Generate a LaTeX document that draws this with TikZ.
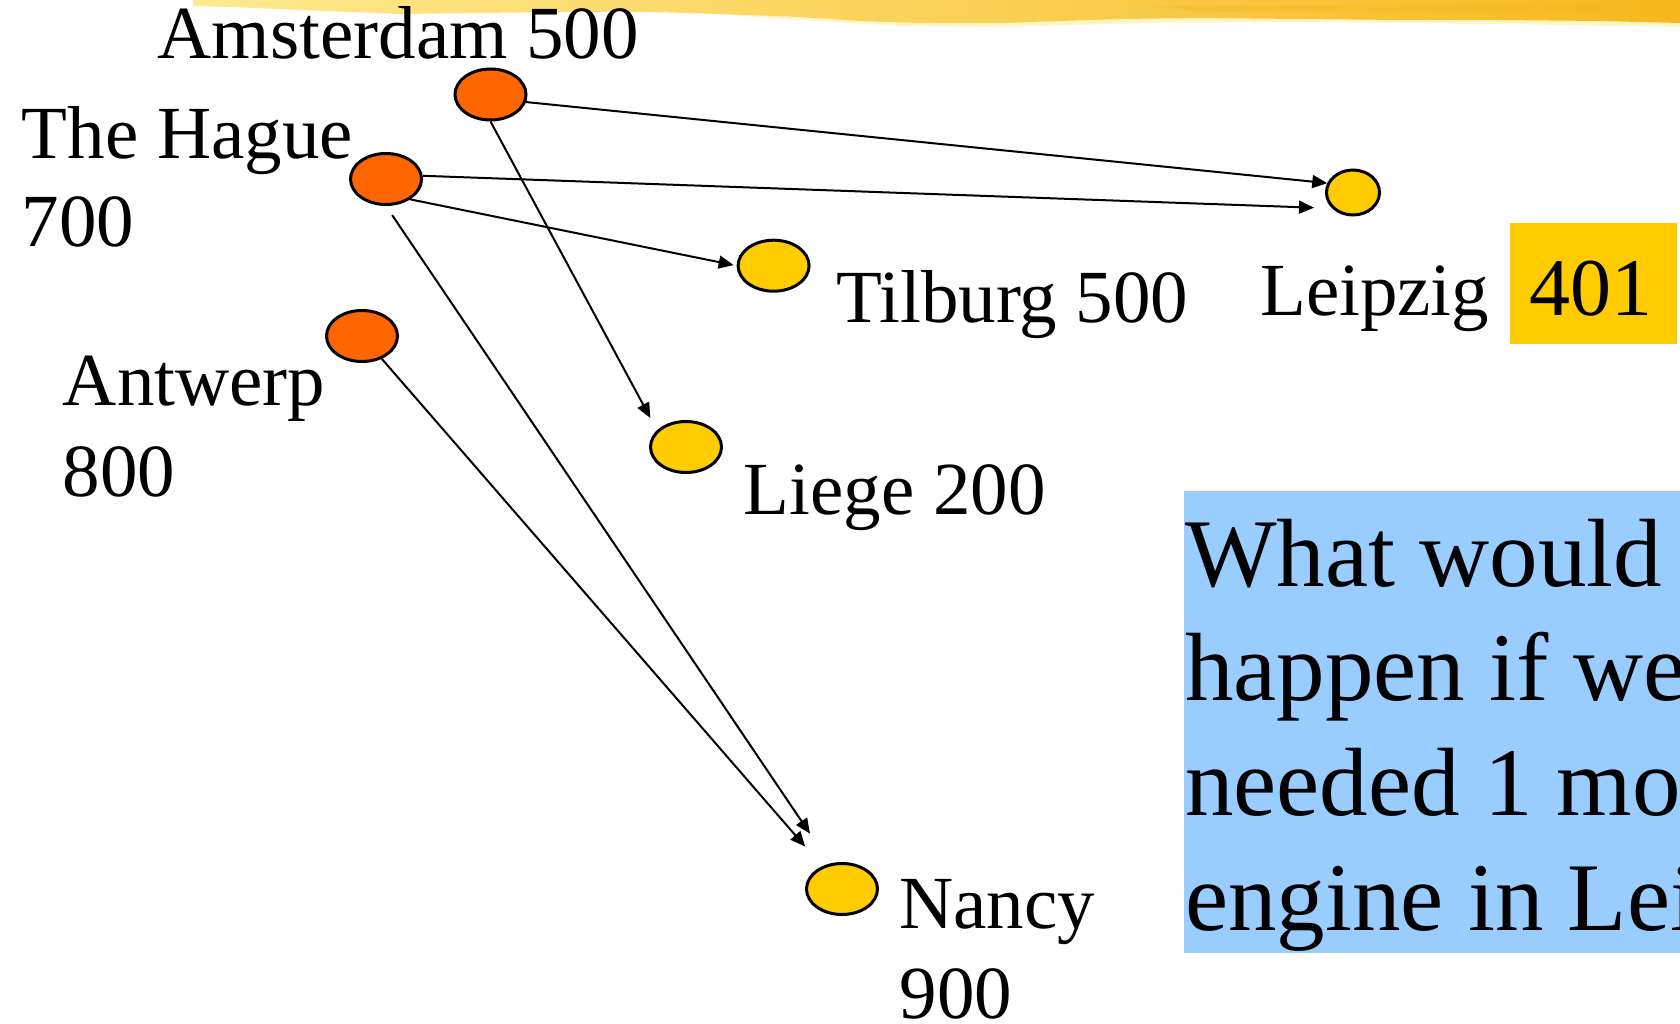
\documentclass[tikz,border=0pt]{standalone}
\usepackage{fontspec}
\setmainfont{Liberation Serif}
\usetikzlibrary{arrows.meta,shapes.geometric}
\definecolor{cityorange}{HTML}{FF6600}
\definecolor{cityyellow}{HTML}{FFCC00}
\definecolor{questionblue}{HTML}{99CCFF}
\definecolor{brushpale}{HTML}{FFEA90}
\definecolor{brushmid}{HTML}{FFD540}
\definecolor{brushdeep}{HTML}{F6B81E}
\definecolor{brushfringe}{HTML}{FFF3B8}

\begin{document}
\begin{tikzpicture}[x=1pt,y=-1pt,
  city/.style={ellipse,draw=black,line width=3pt,inner sep=0pt,
               minimum width=71pt,minimum height=51pt},
  source/.style={city,fill=cityorange},
  sink/.style={city,fill=cityyellow},
  lbl/.style={anchor=base west,inner sep=0pt,font=\fontsize{75}{88}\selectfont},
  qline/.style={anchor=base west,inner sep=0pt,font=\fontsize{97}{115}\selectfont},
  flow/.style={line width=2pt,-{Triangle[length=15pt,width=13pt]}}]
\path[use as bounding box] (0,0) rectangle (1680,1024);
\clip (0,0) rectangle (1680,1024);

% brush stroke along the top edge
\fill[brushfringe,opacity=0.8] (600,8) -- (700,13) -- (800,20) -- (900,26)
  -- (1000,27) -- (1150,23) -- (1300,22) -- (1500,24) -- (1680,27)
  -- (1680,15) -- cycle;
\shade[left color=brushpale,middle color=brushmid,right color=brushdeep]
  (193,-2) -- (193,6) -- (230,7) -- (300,10) -- (400,14) -- (480,13)
  -- (560,12) -- (650,12) -- (720,14) -- (800,17) -- (860,21) -- (920,23)
  -- (1000,23) -- (1060,21) -- (1120,19) -- (1200,18) -- (1300,19)
  -- (1400,20) -- (1500,20) -- (1600,21) -- (1680,23) -- (1680,-2) -- cycle;
\fill[brushdeep,opacity=0.35] (1150,6) -- (1680,4) -- (1680,14) -- (1200,12) -- cycle;

% cities
\node[source] (ams) at (490.5,94.5) {};
\node[source] (hag) at (386,179) {};
\node[source] (ant) at (362,336) {};
\node[sink] (til) at (773.6,265.7) {};
\node[sink] (lie) at (686,447) {};
\node[sink] (nan) at (842,889) {};
\node[sink,minimum width=53pt,minimum height=45pt] (lei) at (1353,192.5) {};

% city labels
\node[lbl] (amsL) at (157.5,59) {Amsterdam 500};
\node[lbl] (hagL) at (21.7,158.3) {The Hague};
\node[lbl] (hagN) at (21.7,246.7) {700};
\node[lbl] (antL) at (62.7,405) {Antwerp};
\node[lbl] (antN) at (62.7,496.7) {800};
\node[lbl] (tilL) at (836,322) {Tilburg 500};
\node[lbl] (leiL) at (1260,315.7) {Leipzig};
\node[fill=cityyellow,inner sep=0pt,minimum width=167pt,minimum height=121.3pt,
      anchor=north west] (leiBox) at (1510,222.7) {};
\node[lbl,font=\fontsize{82}{96}\selectfont] (leiN) at (1529,315.7) {401};
\node[lbl] (lieL) at (743.6,514) {Liege 200};
\node[lbl] (nanL) at (899.3,928.3) {Nancy};
\node[lbl] (nanN) at (899.3,1018.3) {900};

% question panel
\node[fill=questionblue,inner sep=0pt,minimum width=540pt,minimum height=462pt,
      anchor=north west] (qBox) at (1184,491) {};
\node[qline] (q1) at (1185,586) {What would};
\node[qline] (q2) at (1185,700) {happen if we};
\node[qline] (q3) at (1185,815) {needed 1 more};
\node[qline] (q4) at (1185,930) {engine in Leipzig?};

% shipments
\draw[flow] (ams.-12) -- (lei.160);
\draw[flow,shorten >=18pt] (hag.5) -- (lei.217);
\draw[flow,shorten >=3pt] (hag.-40) -- (til.west);
\draw[flow,shorten >=14pt] (ams.south) -- (lie.150);
\draw[flow,shorten <=11pt,shorten >=36pt] (hag.south) -- (nan.115);
\draw[flow,shorten >=26pt] (ant) -- (nan);
\end{tikzpicture}
\end{document}
